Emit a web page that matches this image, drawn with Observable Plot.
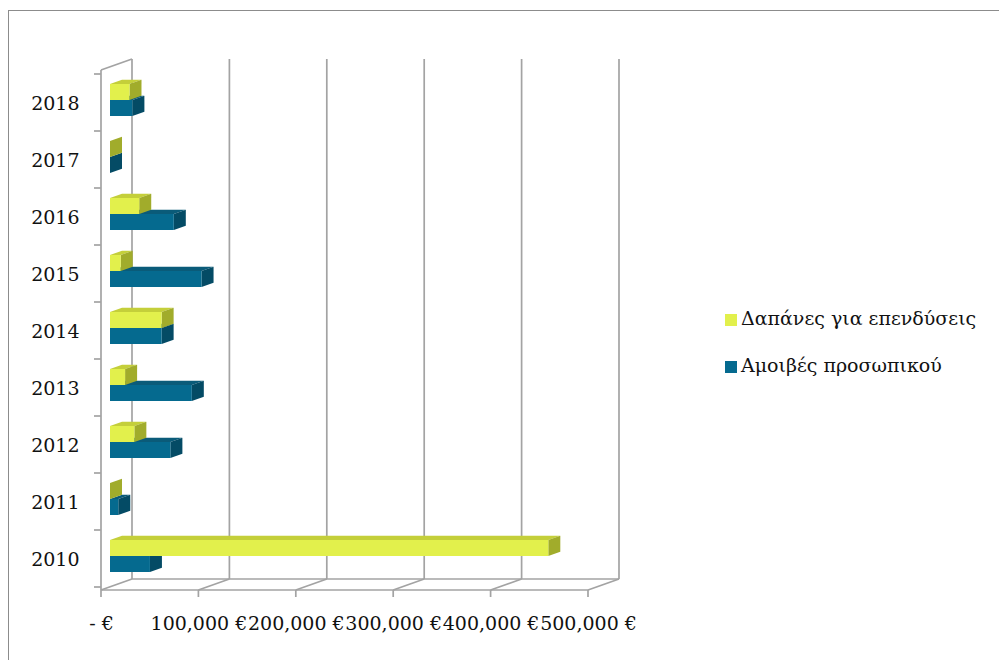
<!DOCTYPE html>
<html>
<head>
<meta charset="utf-8">
<script src="https://cdn.jsdelivr.net/npm/d3@7"></script>
<script src="https://cdn.jsdelivr.net/npm/@observablehq/plot@0.6"></script>
<style>
  body { margin: 0; background: #fff; }
  #wrap { position: relative; width: 999px; height: 660px; overflow: hidden; background: #fff; }
  #border { position: absolute; left: 8px; top: 10px; width: 1100px; height: 800px; border: 1px solid #8c8c8c; box-sizing: border-box; }
  #chart { position: absolute; left: 0; top: 0; }
  .legend { position: absolute; left: 725px; font-family: "DejaVu Serif", serif; font-size: 19px; color: #111; white-space: nowrap; }
  .legend .sw { display: inline-block; width: 12px; height: 12px; margin-right: 4px; vertical-align: -1px; }
</style>
</head>
<body>
<div id="wrap">
  <div id="border"></div>
  <div id="chart"></div>
  <div id="legend"></div>
</div>
<script>
// ---- data ----
const years = ["2010", "2011", "2012", "2013", "2014", "2015", "2016", "2017", "2018"];
const investment = [450000, 0, 25000, 15500, 53000, 11000, 30000, 0, 20000];   // Δαπάνες για επενδύσεις
const personnel  = [41000, 8500, 62000, 84000, 53000, 94000, 65500, 0, 23000];  // Αμοιβές προσωπικού
const seriesNames = ["Δαπάνες για επενδύσεις", "Αμοιβές προσωπικού"];
const xTicks = [0, 100000, 200000, 300000, 400000, 500000];
const xTickLabels = ["- €", "100,000 €", "200,000 €", "300,000 €", "400,000 €", "500,000 €"];

// ---- styles ----
const GRID = "#a3a3a3";
const yellow = {front: "#e2f04c", top: "#c4cf3a", side: "#a1ac2b"};
const blue = {front: "#056a8f", top: "#0a5b79", side: "#044b65"};
const WALL = [31, -11];       // full depth offset of the back wall (px)
const BAR_FRONT = [9, -2.5];  // bar front plane offset
const BAR_DEPTH = [12, -4.3]; // bar thickness in depth
const BAR_H = 16;             // bar height (px)

function pts(a) { return a.map(p => p.join(",")).join(" "); }

// walls, floor, gridlines — drawn through the plot's scales
const walls = Plot.ruleX(xTicks, {
  x: d => d,
  render(index, scales, values, dims) {
    const X = scales.x, Y = scales.y, bw = Y.bandwidth();
    const top = dims.marginTop, bot = dims.height - dims.marginBottom;
    const [dx, dy] = WALL;
    const g = d3.create("svg:g").attr("fill", "none").attr("stroke", GRID).attr("stroke-width", 1.7);
    const line = (x1, y1, x2, y2) => g.append("line").attr("x1", x1).attr("y1", y1).attr("x2", x2).attr("y2", y2);
    const x0 = X(xTicks[0]), xN = X(xTicks[xTicks.length - 1]);
    for (const t of xTicks) line(X(t) + dx, top + dy, X(t) + dx, bot + dy);
    line(x0, top, x0, bot);
    line(x0, top, x0 + dx, top + dy);
    line(x0, bot, xN, bot);
    line(x0 + dx, bot + dy, xN + dx, bot + dy);
    for (const t of xTicks) {
      line(X(t), bot, X(t) + dx, bot + dy);
      line(X(t), bot, X(t), bot + 7);
    }
    const bounds = new Set();
    for (const yv of years) { bounds.add(Y(yv)); bounds.add(Y(yv) + bw); }
    for (const b of bounds) line(x0 - 7, b, x0, b);
    return g.node();
  }
});

function prism(vals, col, upper) {
  const data = years.map((y, i) => ({year: y, value: vals[i]}));
  return Plot.barX(data, {
    x: "value", y: "year",
    render(index, scales) {
      const X = scales.x, Y = scales.y, bw = Y.bandwidth();
      const [fx, fy] = BAR_FRONT, [sx, sy] = BAR_DEPTH;
      const g = d3.create("svg:g");
      for (const d of data) {
        const xa = X(0) + fx, xb = X(d.value) + fx;
        const c = Y(d.year) + fy + bw / 2;
        const ya = upper ? c - BAR_H : c, yb = upper ? c : c + BAR_H;
        g.append("polygon").attr("points", pts([[xa, ya], [xb, ya], [xb + sx, ya + sy], [xa + sx, ya + sy]])).attr("fill", col.top);
        g.append("polygon").attr("points", pts([[xb, ya], [xb, yb], [xb + sx, yb + sy], [xb + sx, ya + sy]])).attr("fill", col.side);
        g.append("rect").attr("x", xa).attr("y", ya).attr("width", Math.max(0, xb - xa)).attr("height", yb - ya).attr("fill", col.front);
      }
      return g.node();
    }
  });
}

const chart = Plot.plot({
  width: 999, height: 660,
  marginLeft: 101, marginRight: 411, marginTop: 70, marginBottom: 70,
  style: {fontFamily: "DejaVu Serif", fontSize: "19px", color: "#111", background: "transparent", overflow: "visible"},
  x: {domain: [0, 500000]},
  y: {domain: years.slice().reverse(), padding: 0},
  marks: [
    walls,
    prism(personnel, blue, false),
    prism(investment, yellow, true),
    Plot.axisX({ticks: xTicks, tickFormat: d => xTickLabels[xTicks.indexOf(d)], tickSize: 0, tickPadding: 26, label: null}),
    Plot.axisY({tickSize: 0, tickPadding: 22, dy: 1, label: null})
  ]
});
document.getElementById("chart").append(chart);

// legend
const legend = document.getElementById("legend");
[[seriesNames[0], yellow.front, 307], [seriesNames[1], blue.front, 354]].forEach(([name, color, top]) => {
  const el = document.createElement("div");
  el.className = "legend";
  el.style.top = top + "px";
  el.innerHTML = `<span class="sw" style="background:${color}"></span>${name}`;
  legend.append(el);
});
</script>
</body>
</html>
